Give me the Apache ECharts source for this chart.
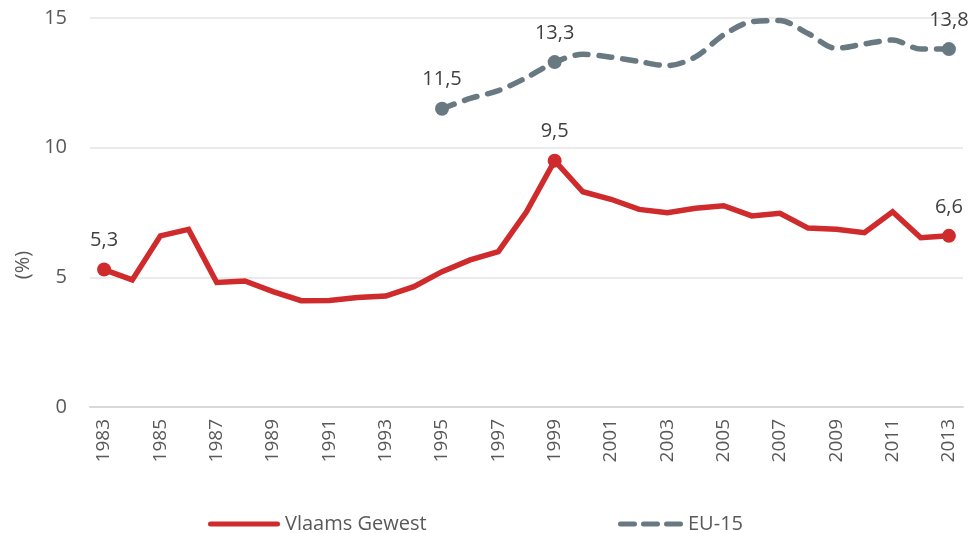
<!DOCTYPE html>
<html>
<head>
<meta charset="utf-8">
<script src="https://cdn.jsdelivr.net/npm/echarts@6/dist/echarts.min.js"></script>
<style>
  html, body { margin: 0; padding: 0; background: #fff; }
  #chart { width: 971px; height: 533px; }
</style>
</head>
<body>
<div id="chart"></div>
<script>
// jaren
var years = [];
for (var y = 1983; y <= 2013; y++) years.push(String(y));

// Vlaams Gewest (%)
var vlaams = [5.3, 4.9, 6.6, 6.85, 4.8, 4.86, 4.45, 4.1, 4.11, 4.22, 4.28, 4.64, 5.22, 5.67, 5.99,
  7.53, 9.5, 8.3, 8.01, 7.62, 7.49, 7.66, 7.76, 7.37, 7.47, 6.9, 6.85, 6.72, 7.53, 6.53, 6.6];

// EU-15 (%), vanaf 1995
var eu15 = [null, null, null, null, null, null, null, null, null, null, null, null, 11.5, 11.9, 12.2,
  12.7, 13.3, 13.6, 13.49, 13.32, 13.16, 13.5, 14.35, 14.86, 14.9, 14.4, 13.83, 14.0, 14.15, 13.8, 13.8];

// punten met label
var vlaamsLabels = [0, 16, 30];
var euLabels = [12, 16, 30];

var yTicks = [0, 5, 10, 15];

var FONT = "Open Sans";
var RED = "#cf2a2c";
var GREY = "#687982";

// legend-iconen: volle lijn en drie streepjes
var solidIcon = "path://M2.5,0H69.5A2.5,2.5,0,0,1,69.5,5H2.5A2.5,2.5,0,0,1,2.5,0Z";
var dashIcon = "path://M2.5,0H16.5A2.5,2.5,0,0,1,16.5,5H2.5A2.5,2.5,0,0,1,2.5,0Z" +
  "M25.5,0H39.5A2.5,2.5,0,0,1,39.5,5H25.5A2.5,2.5,0,0,1,25.5,0Z" +
  "M48.5,0H62.5A2.5,2.5,0,0,1,62.5,5H48.5A2.5,2.5,0,0,1,48.5,0Z";

function withLabels(values, idx, color) {
  return values.map(function (v, i) {
    if (idx.indexOf(i) < 0) return v;
    return {
      value: v,
      symbol: "circle",
      symbolSize: 14,
      itemStyle: { color: color },
      label: {
        show: true,
        position: "top",
        distance: 12,
        color: "#404040",
        fontFamily: FONT,
        fontSize: 20,
        formatter: function (p) {
          return String(p.value).replace(".", ",");
        },
      },
    };
  });
}

var chart = echarts.init(document.getElementById("chart"));
chart.setOption({
  animation: false,
  grid: { left: 90, right: 8, top: 18, bottom: 126 },
  legend: [
    {
      data: [{ name: "Vlaams Gewest", icon: solidIcon }],
      left: 203,
      top: 509,
      itemWidth: 72,
      itemHeight: 5,
      itemGap: 0,
      textStyle: { fontFamily: FONT, fontSize: 20, color: "#595959", padding: [0, 0, 0, 0] },
    },
    {
      data: [{ name: "EU-15", icon: dashIcon }],
      left: 613,
      top: 509,
      itemWidth: 65,
      itemHeight: 5,
      textStyle: { fontFamily: FONT, fontSize: 20, color: "#595959" },
    },
  ],
  graphic: [
    {
      type: "text",
      x: 23,
      y: 265,
      rotation: Math.PI / 2,
      style: {
        text: "(%)",
        fontFamily: FONT,
        fontSize: 20,
        fill: "#595959",
        align: "center",
        verticalAlign: "middle",
      },
    },
  ],
  xAxis: {
    type: "category",
    data: years,
    boundaryGap: true,
    axisLine: { show: true, lineStyle: { color: "#d9d9d9", width: 2 } },
    axisTick: { show: false },
    axisLabel: {
      interval: 1,
      rotate: 90,
      margin: 12,
      color: "#595959",
      fontFamily: FONT,
      fontSize: 19,
    },
  },
  yAxis: {
    type: "value",
    min: yTicks[0],
    max: yTicks[yTicks.length - 1],
    interval: 5,
    axisLine: { show: false },
    axisTick: { show: false },
    axisLabel: { margin: 23, color: "#595959", fontFamily: FONT, fontSize: 20 },
    splitLine: { lineStyle: { color: "#ebebeb", width: 2 } },
  },
  series: [
    {
      name: "Vlaams Gewest",
      type: "line",
      symbol: "none",
      color: RED,
      lineStyle: { color: RED, width: 5.5, join: "miter" },
      data: withLabels(vlaams, vlaamsLabels, RED),
      z: 3,
    },
    {
      name: "EU-15",
      type: "line",
      symbol: "none",
      smooth: 0.3,
      color: GREY,
      connectNulls: false,
      lineStyle: { color: GREY, width: 5.5, type: [13, 11], cap: "round" },
      data: withLabels(eu15, euLabels, GREY),
      z: 2,
    },
  ],
});
</script>
</body>
</html>
